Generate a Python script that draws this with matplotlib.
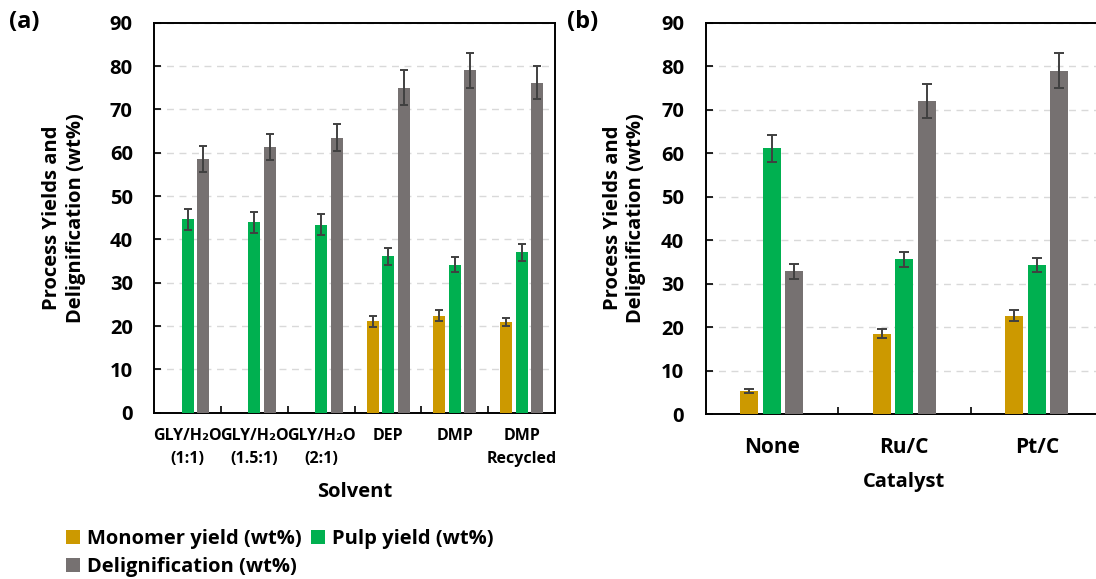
import numpy as np
import matplotlib
matplotlib.use("Agg")
import matplotlib.pyplot as plt
from matplotlib.ticker import FixedLocator

plt.rcParams['font.family'] = ['Open Sans', 'DejaVu Sans']
plt.rcParams['font.weight'] = 'bold'

# ---------------- data ----------------
solvents = ["GLY/H\u2082O\n(1:1)", "GLY/H\u2082O\n(1.5:1)", "GLY/H\u2082O\n(2:1)", "DEP", "DMP", "DMP\nRecycled"]
a_monomer = [np.nan, np.nan, np.nan, 21.1, 22.4, 20.9]
a_monomer_err = [np.nan, np.nan, np.nan, 1.3, 1.3, 1.0]
a_pulp = [44.6, 43.9, 43.4, 36.1, 34.2, 37.0]
a_pulp_err = [2.4, 2.4, 2.4, 1.9, 1.7, 1.9]
a_delig = [58.6, 61.4, 63.5, 75.0, 79.0, 76.2]
a_delig_err = [3.0, 3.0, 3.2, 4.1, 4.0, 3.8]

catalysts = ["None", "Ru/C", "Pt/C"]
b_monomer = [5.4, 18.5, 22.7]
b_monomer_err = [0.4, 1.0, 1.2]
b_pulp = [61.2, 35.6, 34.3]
b_pulp_err = [3.1, 1.7, 1.7]
b_delig = [32.9, 72.0, 79.0]
b_delig_err = [1.7, 3.8, 4.0]

series_labels = ["Monomer yield (wt%)", "Pulp yield (wt%)", "Delignification (wt%)"]
colors = ["#CC9900", "#00B050", "#767171"]
yticks = list(range(0, 100, 10))

W, H = 1096, 579
fig = plt.figure(figsize=(W / 100, H / 100), dpi=100)

def px_axes(l, t, r, b):
    return fig.add_axes([l / W, 1 - b / H, (r - l) / W, (b - t) / H])

axA = px_axes(154.3, 22.7, 555, 412.7)
axB = px_axes(705.7, 22.7, 1103, 414.3)

err_kw = dict(ecolor="#404040", elinewidth=1.4, capthick=1.4)

def draw(ax, cats, series, errs, width, pitch, capsize, xtick_size, xtick_pad, lsp):
    x = np.arange(len(cats))
    handles = []
    for i, (vals, ev) in enumerate(zip(series, errs)):
        h = ax.bar(x + (i - 1) * pitch, vals, width, yerr=ev, color=colors[i],
                   capsize=capsize, error_kw=err_kw, zorder=3, label=series_labels[i])
        handles.append(h)
    ax.set_xlim(-0.5, len(cats) - 0.5)
    ax.set_ylim(0, 90)
    ax.yaxis.set_major_locator(FixedLocator(yticks))
    ax.set_xticks(x)
    ax.set_xticklabels(cats, fontsize=xtick_size, fontweight='bold', linespacing=lsp)
    ax.xaxis.set_minor_locator(FixedLocator(np.arange(0.5, len(cats) - 0.5, 1.0)))
    ax.tick_params(axis='x', which='major', length=0, pad=xtick_pad)
    ax.tick_params(axis='x', which='minor', direction='in', length=5, width=1.2)
    ax.tick_params(axis='y', direction='in', length=5, width=1.2, labelsize=14.5, pad=15.5)
    for lab in ax.get_yticklabels():
        lab.set_fontweight('bold')
    ax.yaxis.grid(True, color="#D9D9D9", linestyle=(0, (5, 4)), linewidth=1.0, zorder=0)
    ax.set_axisbelow(True)
    for s in ax.spines.values():
        s.set_linewidth(1.4)
        s.set_color("black")
    return handles

hA = draw(axA, solvents, [a_monomer, a_pulp, a_delig], [a_monomer_err, a_pulp_err, a_delig_err],
          0.18, 0.232, 3.2, 11.5, 11, 1.6)
hB = draw(axB, catalysts, [b_monomer, b_pulp, b_delig], [b_monomer_err, b_pulp_err, b_delig_err],
          0.135, 0.17, 3.5, 15, 16, 1.2)
axB.spines['right'].set_visible(False)

# y labels
for xc in (64, 624):
    fig.text(xc / W, 1 - 218 / H, "Process Yields and\nDelignification (wt%)", rotation=90,
             ha='center', va='center', fontsize=14.5, fontweight='bold', linespacing=1.2)
# x labels
fig.text(355 / W, 1 - 492 / H, "Solvent", ha='center', va='center', fontsize=14.5, fontweight='bold')
fig.text(904 / W, 1 - 482 / H, "Catalyst", ha='center', va='center', fontsize=14.5, fontweight='bold')
# panel labels
fig.text(9 / W, 1 - 22 / H, "(a)", ha='left', va='center', fontsize=17, fontweight='bold')
fig.text(567 / W, 1 - 22 / H, "(b)", ha='left', va='center', fontsize=17, fontweight='bold')

# legend: row-wise order (Monomer, Pulp / Delignification) with column-major filling
order = [0, 2, 1]
leg = fig.legend([hA[i] for i in order], [series_labels[i] for i in order], loc='upper left',
                 bbox_to_anchor=(66 / W, 1 - 529 / H),
                 ncol=2, frameon=False, handlelength=0.7, handleheight=0.7,
                 handletextpad=0.35, columnspacing=0.45, labelspacing=0.42, borderpad=0,
                 borderaxespad=0, prop={'weight': 'bold', 'size': 14.5})

fig.savefig("out.png", dpi=100)
